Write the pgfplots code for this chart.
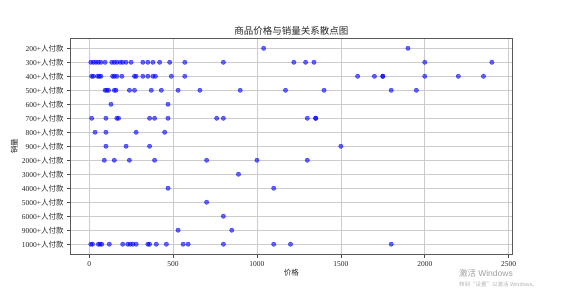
\documentclass[border=0pt]{standalone}
\usepackage{fontspec}
\setmainfont{Liberation Serif}
\newfontfamily\cjk{Noto Sans CJK SC}
\newfontfamily\uisans{Liberation Sans}
\usepackage{pgfplots}
\pgfplotsset{compat=1.18}

\begin{document}
\begin{tikzpicture}
\path[use as bounding box] (-70.7pt,-33pt) rectangle (496.3pt,254pt);
\begin{axis}[
  scale only axis,
  width=441.3pt, height=215.5pt,
  xmin=-110, xmax=2520,
  ymin=-0.7, ymax=14.7,
  xtick={0,500,1000,1500,2000,2500},
  ytick={0,1,2,3,4,5,6,7,8,9,10,11,12,13,14},
  yticklabels={
    1000+{\cjk 人付款}, 9000+{\cjk 人付款}, 6000+{\cjk 人付款},
    5000+{\cjk 人付款}, 4000+{\cjk 人付款}, 3000+{\cjk 人付款},
    2000+{\cjk 人付款}, 900+{\cjk 人付款}, 800+{\cjk 人付款},
    700+{\cjk 人付款}, 600+{\cjk 人付款}, 500+{\cjk 人付款},
    400+{\cjk 人付款}, 300+{\cjk 人付款}, 200+{\cjk 人付款}},
  /pgf/number format/assume math mode=true,
  /pgf/number format/1000 sep={},
  scaled x ticks=false,
  grid=major,
  major grid style={black!20, line width=0.6pt},
  axis line style={black!65, line width=0.7pt},
  tick align=outside, tick pos=left,
  major tick length=3.5pt,
  tick style={black!70, line width=0.6pt},
  tick label style={font=\fontsize{7.5}{9}\selectfont, text=black!85},
  xlabel={\cjk 价格}, ylabel={\cjk 销量},
  label style={font=\fontsize{7.5}{9}\selectfont, text=black!85},
  xlabel style={at={(axis description cs:0.5,-0.085)}, anchor=center},
  ylabel style={at={(axis description cs:-0.128,0.5)}, anchor=center},
  title={\cjk 商品价格与销量关系散点图},
  % the default title style already shifts up by 6pt
  title style={font=\fontsize{9.5}{11}\selectfont, text=black!85,
    at={(axis description cs:0.5,1)}, anchor=base, inner sep=0pt, yshift=-2.5pt},
]
\addplot[only marks, mark=*, mark size=2.2pt,
  mark options={draw=blue, fill=blue, draw opacity=0.6, fill opacity=0.6}]
  table {
x y
1040 14
1900 14
10 13
25 13
40 13
55 13
70 13
95 13
135 13
150 13
165 13
185 13
200 13
220 13
250 13
320 13
350 13
380 13
420 13
480 13
570 13
800 13
1220 13
1290 13
1340 13
2000 13
2400 13
15 12
25 12
50 12
60 12
70 12
140 12
150 12
165 12
195 12
270 12
280 12
320 12
350 12
380 12
395 12
490 12
570 12
1600 12
1700 12
1750 12
1750 12
2000 12
2200 12
2350 12
95 11
105 11
115 11
150 11
160 11
240 11
270 11
370 11
430 11
530 11
660 11
900 11
1170 11
1400 11
1800 11
1950 11
130 10
470 10
15 9
100 9
165 9
175 9
360 9
390 9
470 9
760 9
800 9
1300 9
1350 9
1350 9
35 8
100 8
280 8
450 8
100 7
220 7
360 7
1500 7
90 6
150 6
240 6
390 6
700 6
1000 6
1300 6
890 5
470 4
1100 4
700 3
800 2
530 1
850 1
10 0
20 0
55 0
65 0
75 0
120 0
200 0
230 0
245 0
260 0
280 0
350 0
360 0
400 0
460 0
560 0
590 0
800 0
1100 0
1200 0
1800 0
};
\end{axis}
% system watermark in the lower right corner
\node[anchor=west, inner sep=0pt, text=black!38, font=\fontsize{8.5}{10}\selectfont]
  at (388.3pt,-19pt) {{\cjk 激活} \uisans Windows};
\node[anchor=west, inner sep=0pt, text=black!30, font=\fontsize{5.5}{6}\selectfont]
  at (388.3pt,-30pt) {{\cjk 转到“设置”以激活} \uisans Windows{\cjk 。}};
\end{tikzpicture}
\end{document}
